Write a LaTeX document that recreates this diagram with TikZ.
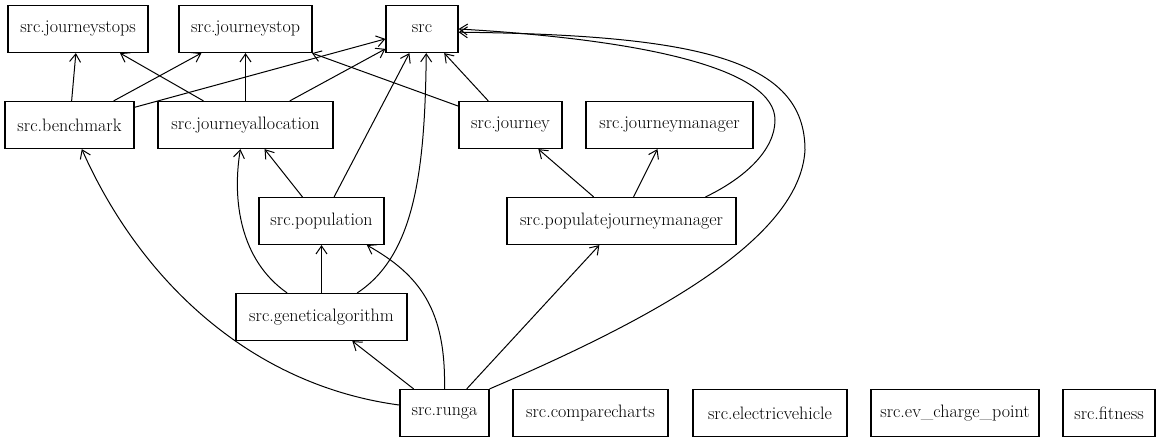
\documentclass[tikz,border=0pt]{standalone}
\usetikzlibrary{arrows.meta}

\begin{document}
\begin{tikzpicture}[x=1pt,y=-1pt,>={Straight Barb[length=8pt,width=11pt]},
  mod/.style={draw,line width=1.2pt,rectangle,minimum height=47pt,inner sep=0pt,
    font=\fontsize{18}{21}\selectfont},
  dep/.style={->,line width=1pt}]

\useasboundingbox (0,0) rectangle (1164,443);

% ----- helper: module box -----
% \Mod{name}{x}{y}{width}{label}
\newcommand{\Mod}[5]{%
  \node[mod,minimum width=#4pt] (#1) at (#2,#3) {#5};
}

% Row 1
\Mod{jstops}{78}{29}{140}{src.journeystops}
\Mod{jstop}{245.5}{29}{133}{src.journeystop}
\Mod{src}{422}{29}{72}{src}

% Row 2
\Mod{bench}{69.5}{125}{129}{src.benchmark}
\Mod{jalloc}{245.5}{125}{175}{src.journeyallocation}
\Mod{journey}{510.5}{125}{103}{src.journey}
\Mod{jman}{669.5}{125}{167}{src.journeymanager}

% Row 3
\Mod{pop}{321.5}{221}{125}{src.population}
\Mod{popjman}{621.5}{221}{229}{src.populatejourneymanager}

% Row 4
\Mod{ga}{321.5}{317}{171}{src.geneticalgorithm}

% Row 5
\Mod{runga}{444.5}{413}{89}{src.runga}
\Mod{charts}{590.5}{413}{155}{src.comparecharts}
\Mod{ev}{770}{413}{154}{src.electricvehicle}
\Mod{evcp}{955}{413}{168}{src.ev\_charge\_point}
\Mod{fit}{1109}{413}{92}{src.fitness}

% imports into row 1
\draw[dep] (bench) -- (jstops);
\draw[dep] (bench) -- (jstop);
\draw[dep] (bench) -- (src);
\draw[dep] (jalloc) -- (jstops);
\draw[dep] (jalloc) -- (jstop);
\draw[dep] (jalloc) -- (src);
\draw[dep] (journey) -- (jstop);
\draw[dep] (journey) -- (src);

% imports from row 3
\draw[dep] (pop) -- (jalloc);
\draw[dep] (pop) -- (src);
\draw[dep] (popjman) -- (journey);
\draw[dep] (popjman) -- (jman);
\draw[dep] (popjman.16) .. controls (745,178) and (775,150) .. (775,120)
  .. controls (775,70) and (650,40) .. (src.east);

% imports from geneticalgorithm
\draw[dep] (ga) -- (pop);
\draw[dep] (ga.145) .. controls (240,260) and (232,200) .. (jalloc.-102);
\draw[dep] (ga.34) .. controls (415,255) and (425,170) .. (src.-80);

% imports from runga
\draw[dep] (runga) -- (ga);
\draw[dep] (runga) -- (popjman);
\draw[dep] (runga.north) .. controls (446,310) and (420,275) .. (pop.-28);
\draw[dep] (runga.170) .. controls (250,385) and (140,280) .. (bench.-63);
\draw[dep] (runga.north east) .. controls (650,320) and (800,240) .. (805,150)
  .. controls (805,60) and (700,35) .. (src.-5);

\end{tikzpicture}
\end{document}
